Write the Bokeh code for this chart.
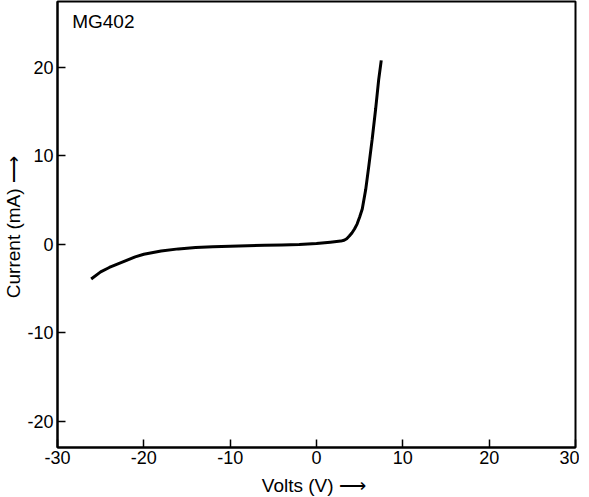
from bokeh.plotting import figure
from bokeh.models import FixedTicker, Range1d, Label
from bokeh.embed import file_html
from bokeh.resources import INLINE

volts = [-26.1, -25, -24, -23, -22, -21, -20, -18, -16, -14, -12, -10, -8, -6, -4, -2,
         0, 1.6, 2.8, 3.2, 3.5, 3.8, 4.1, 4.4, 4.7, 5.0, 5.3, 5.7, 6.05, 6.45, 6.85, 7.2, 7.5]
current = [-3.9, -3.1, -2.6, -2.2, -1.8, -1.4, -1.1, -0.75, -0.5, -0.35, -0.25, -0.2, -0.15, -0.1, -0.05, 0.0,
           0.1, 0.26, 0.38, 0.48, 0.65, 0.95, 1.3, 1.75, 2.3, 3.1, 4.0, 6.2, 8.8, 11.9, 15.3, 18.6, 20.8]
x_ticks = [-30, -20, -10, 0, 10, 20, 30]
y_ticks = [-20, -10, 0, 10, 20]
sample = "MG402"

FONT = "Liberation Sans"

p = figure(frame_width=518, frame_height=446, output_backend="svg", toolbar_location=None,
           x_range=Range1d(-30, 30), y_range=Range1d(-22.94, 27.45),
           min_border_left=0, min_border_right=4, min_border_top=1, min_border_bottom=0)
p.grid.visible = False
p.background_fill_color = "white"
p.border_fill_color = "white"
p.outline_line_color = "black"
p.outline_line_width = 2

p.line(volts, current, line_color="black", line_width=3)

for ax in (p.xaxis[0], p.yaxis[0]):
    ax.axis_line_width = 2
    ax.axis_line_color = "black"
    ax.major_tick_in = 8
    ax.major_tick_out = 0
    ax.major_tick_line_width = 1.5
    ax.minor_tick_in = 0
    ax.minor_tick_out = 0
    ax.major_label_text_font = FONT
    ax.major_label_text_font_size = "18px"
    ax.major_label_text_color = "black"
    ax.axis_label_text_font = FONT
    ax.axis_label_text_font_size = "19px"
    ax.axis_label_text_font_style = "normal"
    ax.axis_label_text_color = "black"

p.xaxis.ticker = FixedTicker(ticks=x_ticks)
p.yaxis.ticker = FixedTicker(ticks=y_ticks)
p.xaxis.major_label_overrides = {t: str(t) for t in x_ticks}
p.yaxis.major_label_overrides = {t: str(t) for t in y_ticks}
p.xaxis.major_label_standoff = 3
p.yaxis.major_label_standoff = 4
p.xaxis.axis_label = "Volts (V)  \u27f6"
p.yaxis.axis_label = "Current (mA)  \u27f6"
p.xaxis.axis_label_standoff = 8
p.yaxis.axis_label_standoff = 0

p.add_layout(Label(x=-28.3, y=24.0, text=sample, text_baseline="bottom",
                   text_font=FONT, text_font_size="19px", text_color="black"))

open("out.html", "w").write(file_html(p, INLINE))
